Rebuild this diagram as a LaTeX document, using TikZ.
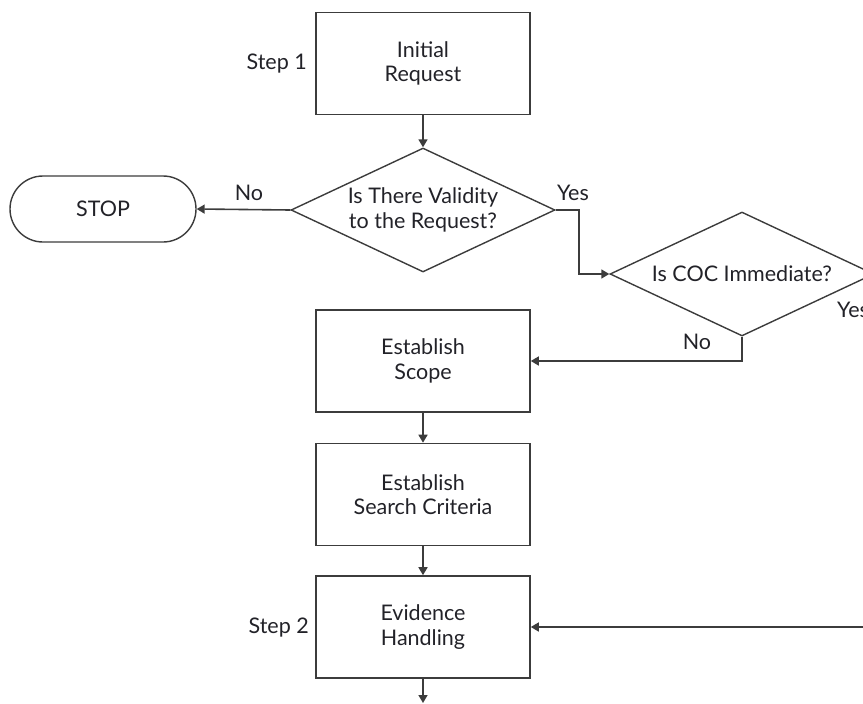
\documentclass[tikz,border=0pt]{standalone}
\usepackage{fontspec}
\setmainfont{Lato}
\usetikzlibrary{shapes.geometric,arrows.meta}
\definecolor{ln}{HTML}{3C3C3C}
\definecolor{tx}{HTML}{222228}
\begin{document}
\begin{tikzpicture}[x=1pt,y=-1pt,
  font=\fontsize{21.5}{24.5}\selectfont, text=tx,
  boxnode/.style={draw=ln, line width=1.6pt, minimum width=214pt, minimum height=102pt, inner sep=0pt, align=center},
  decnode/.style={draw=ln, line width=1.4pt, diamond, minimum width=264pt, minimum height=124pt, inner sep=0pt},
  stopnode/.style={draw=ln, line width=1.4pt, rectangle, rounded corners=33pt, minimum width=186pt, minimum height=66pt, inner sep=0pt},
  conn/.style={draw=ln, line width=1.6pt, -{Triangle[length=8pt,width=9pt]}},
  lbl/.style={inner sep=0pt, align=center}]
\clip (0,0) rectangle (863,704);
\node[boxnode] (init) at (423,63.5) {Initial\\Request};
\node[lbl, anchor=east] (step1) at (307,64) {Step 1};
\node[decnode] (d1) at (423,210) {};
\node[lbl] (d1t) at (423,210) {Is There Validity\\to the Request?};
\node[stopnode] (stop) at (103,209) {STOP};
\node[lbl] (no1) at (249,193) {No};
\node[lbl] (yes1) at (573,193) {Yes};
\node[decnode] (d2) at (742,274) {};
\node[lbl] (d2t) at (742,274) {Is COC Immediate?};
\node[lbl] (no2) at (697,342) {No};
\node[lbl, anchor=west] (yes2) at (837,310) {Yes};
\node[boxnode] (scope) at (423,361) {Establish\\Scope};
\node[boxnode] (crit) at (423,494.5) {Establish\\Search Criteria};
\node[boxnode] (evid) at (423,627) {Evidence\\Handling};
\node[lbl, anchor=east] (step2) at (309,628) {Step 2};
\coordinate (rin) at (864,627);
\coordinate (bot) at (423,703);
\draw[conn] (init) -- (d1);
\draw[conn] (d1.west) -- (stop.east);
\draw[conn] (d1.east) -- ++(23,0) |- (d2.west);
\draw[conn] (d2.south) |- (scope.east);
\draw[conn] (scope) -- (crit);
\draw[conn] (crit) -- (evid);
\draw[conn] (rin) -- (evid.east);
\draw[conn] (evid) -- (bot);
\end{tikzpicture}
\end{document}
